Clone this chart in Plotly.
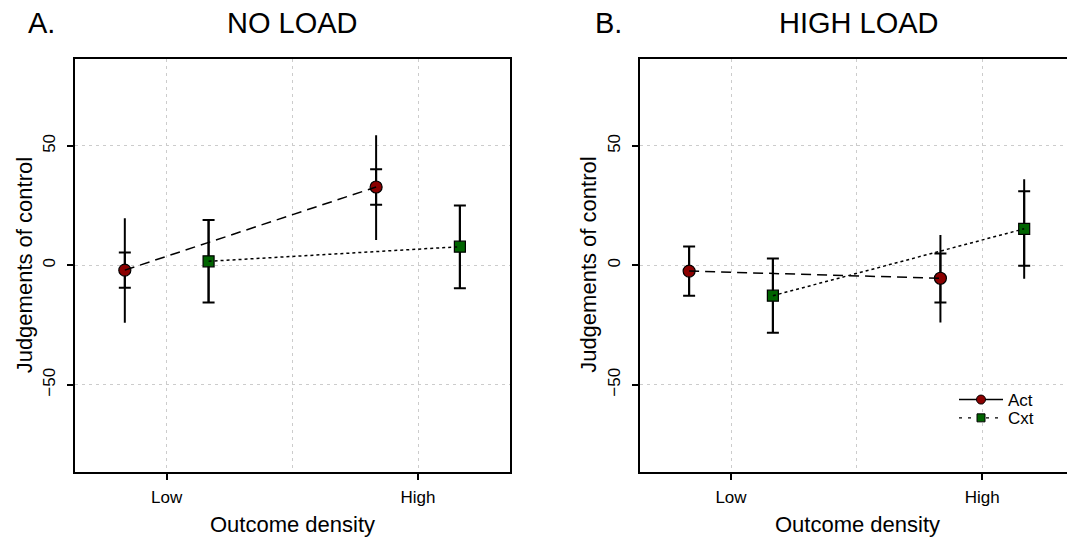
import plotly.graph_objects as go

# ---------------- data ----------------
categories = ["Low", "High"]
series_names = ["Act", "Cxt"]
y_ticks = [-50, 0, 50]

# Panel A: NO LOAD
noload_act_mean = [-2.0, 32.8]
noload_act_ci_lo = [-24.0, 10.6]
noload_act_ci_hi = [19.7, 54.5]
noload_act_se_lo = [-9.4, 25.4]
noload_act_se_hi = [5.4, 40.2]

noload_cxt_mean = [1.7, 7.8]
noload_cxt_ci_lo = [-15.6, -9.6]
noload_cxt_ci_hi = [19.0, 25.1]
noload_cxt_se_lo = [-15.6, -9.6]
noload_cxt_se_hi = [19.0, 25.1]

# Panel B: HIGH LOAD
highload_act_mean = [-2.4, -5.4]
highload_act_ci_lo = [-12.7, -23.9]
highload_act_ci_hi = [7.9, 12.7]
highload_act_se_lo = [-12.7, -15.6]
highload_act_se_hi = [7.9, 5.0]

highload_cxt_mean = [-12.7, 15.3]
highload_cxt_ci_lo = [-28.2, -5.6]
highload_cxt_ci_hi = [2.9, 36.1]
highload_cxt_se_lo = [-28.2, -0.2]
highload_cxt_se_hi = [2.9, 31.0]

# ---------------- styling ----------------
FONT = "Liberation Sans, Arial, sans-serif"
W, H = 1067, 545
ACT_FILL = "#8B0000"
CXT_FILL = "#006400"
GRID = "#CCCCCC"
offsets = {"Act": -1 / 6, "Cxt": 1 / 6}
cat_pos = [1, 2]

fig = go.Figure()


def add_series(name, mean, ci_lo, ci_hi, se_lo, se_hi, xa, ya):
    xs = [p + offsets[name] for p in cat_pos]
    # outer whisker (no caps)
    fig.add_trace(go.Scatter(
        x=xs, y=mean, mode="markers", marker=dict(size=0.1, opacity=0),
        error_y=dict(type="data", symmetric=False,
                     array=[h - m for h, m in zip(ci_hi, mean)],
                     arrayminus=[m - l for l, m in zip(ci_lo, mean)],
                     width=0, thickness=2, color="black"),
        xaxis=xa, yaxis=ya, showlegend=False, hoverinfo="skip"))
    # inner bar with caps + markers
    if name == "Act":
        mk = dict(symbol="circle", size=12, color=ACT_FILL, line=dict(color="black", width=1.2))
    else:
        mk = dict(symbol="square", size=11, color=CXT_FILL, line=dict(color="black", width=1.2))
    fig.add_trace(go.Scatter(
        x=xs, y=mean, mode="markers", marker=mk,
        error_y=dict(type="data", symmetric=False,
                     array=[h - m for h, m in zip(se_hi, mean)],
                     arrayminus=[m - l for l, m in zip(se_lo, mean)],
                     width=6, thickness=2, color="black"),
        xaxis=xa, yaxis=ya, showlegend=False))
    # connecting line (drawn over markers)
    dash = "10px,6px" if name == "Act" else "3px,3px"
    fig.add_trace(go.Scatter(
        x=xs, y=mean, mode="lines", line=dict(color="black", width=1.5, dash=dash),
        xaxis=xa, yaxis=ya, showlegend=False, hoverinfo="skip"))


add_series("Act", noload_act_mean, noload_act_ci_lo, noload_act_ci_hi,
           noload_act_se_lo, noload_act_se_hi, "x", "y")
add_series("Cxt", noload_cxt_mean, noload_cxt_ci_lo, noload_cxt_ci_hi,
           noload_cxt_se_lo, noload_cxt_se_hi, "x", "y")
add_series("Act", highload_act_mean, highload_act_ci_lo, highload_act_ci_hi,
           highload_act_se_lo, highload_act_se_hi, "x2", "y2")
add_series("Cxt", highload_cxt_mean, highload_cxt_ci_lo, highload_cxt_ci_hi,
           highload_cxt_se_lo, highload_cxt_se_hi, "x2", "y2")

# legend entries (two legends for tight row spacing)
fig.add_trace(go.Scatter(
    x=[None], y=[None], mode="lines+markers", name=series_names[0],
    line=dict(color="black", width=1.5),
    marker=dict(symbol="circle", size=9, color=ACT_FILL, line=dict(color="black", width=1)),
    xaxis="x2", yaxis="y2", legend="legend"))
fig.add_trace(go.Scatter(
    x=[None], y=[None], mode="lines+markers", name=series_names[1],
    line=dict(color="black", width=1.2, dash="3px,6px"),
    marker=dict(symbol="square", size=8, color=CXT_FILL, line=dict(color="black", width=1)),
    xaxis="x2", yaxis="y2", legend="legend2"))

# geometry
top_px, bot_px = 59, 471.7
ydom = [1 - bot_px / H, 1 - top_px / H]
axA_left, axA_right = 75, 510
axB_left = 639.5
low_px_A, unit_px = 166.7, 251.3
low_px_B = 731
xrA = [1 + (axA_left - low_px_A) / unit_px, 1 + (axA_right - low_px_A) / unit_px]
xrB = [1 + (axB_left - low_px_B) / unit_px, 1 + (W - low_px_B) / unit_px]

common_x = dict(
    tickmode="array", tickvals=cat_pos, ticktext=categories,
    showgrid=True, gridcolor=GRID, griddash="3px,4px", gridwidth=1,
    minor=dict(tickvals=[1.5], showgrid=True, gridcolor=GRID, griddash="3px,4px", gridwidth=1, ticks=""),
    zeroline=False, showline=True, linecolor="black", linewidth=2, mirror=True,
    ticks="outside", ticklen=6, tickwidth=2, tickcolor="black",
    tickfont=dict(family=FONT, size=17, color="black"), ticklabelstandoff=3,
)
common_y = dict(
    range=[-86.4, 86.4], tickmode="array", tickvals=y_ticks,
    showgrid=True, gridcolor=GRID, griddash="3px,4px", gridwidth=1,
    zeroline=False, showline=True, linecolor="black", linewidth=2,
    ticks="outside", ticklen=6, tickwidth=2, tickcolor="black", tickangle=-90,
    tickfont=dict(family=FONT, size=17, color="black"), ticklabelstandoff=5,
    domain=ydom,
)

xa = dict(common_x); xa.update(domain=[axA_left / W, axA_right / W], range=xrA, anchor="y")
xb = dict(common_x); xb.update(domain=[axB_left / W, 1.0], range=xrB, anchor="y2")
ya = dict(common_y); ya.update(anchor="x", mirror=True)
yb = dict(common_y); yb.update(anchor="x2", mirror=False)

ann = []
def txt(x_px, y_px, s, size, angle=0, xanchor="center"):
    ann.append(dict(x=x_px / W, y=1 - y_px / H, xref="paper", yref="paper", text=s,
                    showarrow=False, textangle=angle, xanchor=xanchor, yanchor="middle",
                    font=dict(family=FONT, size=size, color="black")))

txt(26, 23, "A.", 29, xanchor="left")
txt(292.5, 23, "NO LOAD", 29)
txt(593, 23, "B.", 29, xanchor="left")
txt(859, 23, "HIGH LOAD", 29)
txt(292.5, 524.7, "Outcome density", 22)
txt(857, 524.7, "Outcome density", 22)
txt(24, (top_px + bot_px) / 2, "Judgements of control", 22, angle=-90)
txt(588.5, (top_px + bot_px) / 2, "Judgements of control", 22, angle=-90)

leg_common = dict(xanchor="left", yanchor="top", bgcolor="rgba(0,0,0,0)",
                  font=dict(family=FONT, size=17, color="black"), itemwidth=44)
fig.update_layout(
    width=W, height=H, margin=dict(l=0, r=0, t=0, b=0, autoexpand=False),
    paper_bgcolor="white", plot_bgcolor="white",
    xaxis=xa, xaxis2=xb, yaxis=ya, yaxis2=yb,
    annotations=ann,
    showlegend=True,
    legend=dict(x=954 / W, y=1 - 382 / H, **leg_common),
    legend2=dict(x=954 / W, y=1 - 400.3 / H, **leg_common),
    font=dict(family=FONT, color="black"),
)

fig.write_html("out.html", config={"displayModeBar": False},
               post_script="document.body.style.margin='0';")
